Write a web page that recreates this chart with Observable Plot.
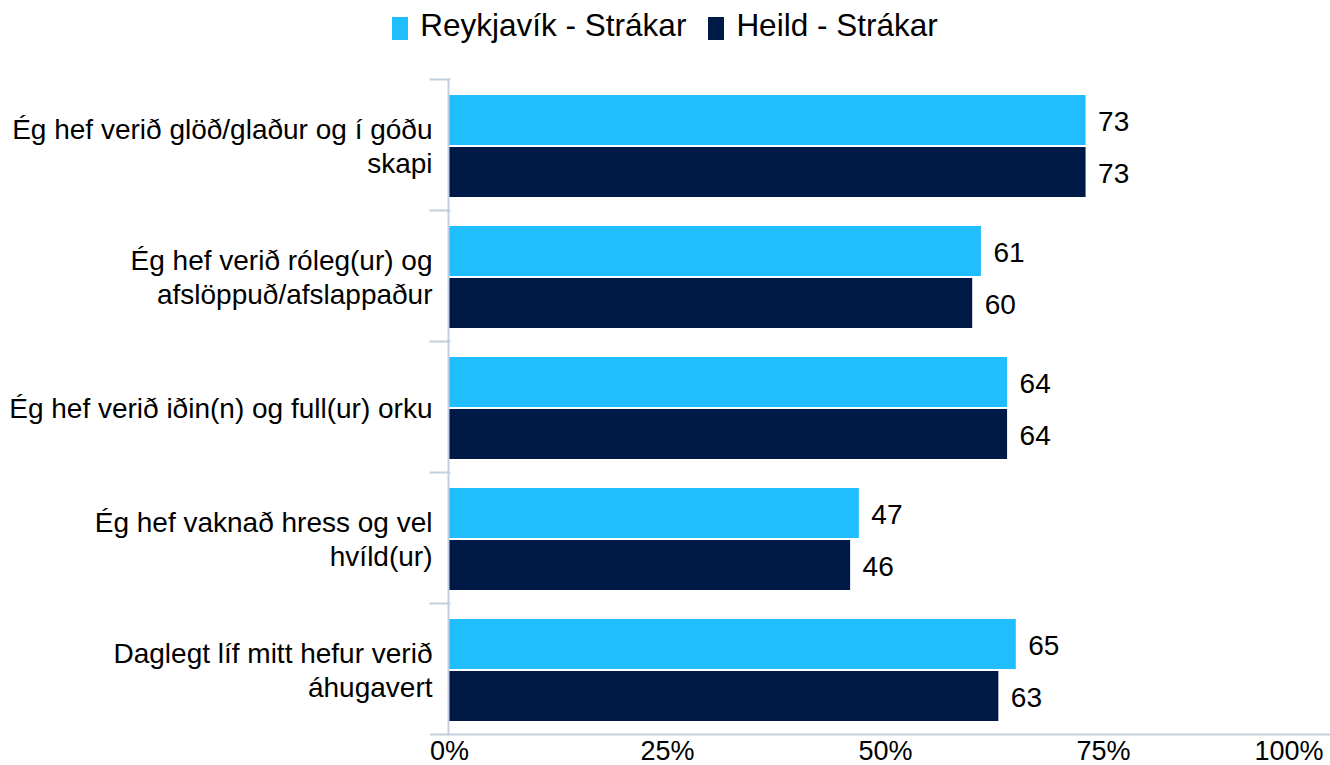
<!DOCTYPE html>
<html>
<head>
<meta charset="utf-8">
<script src="https://cdn.jsdelivr.net/npm/d3@7"></script>
<script src="https://cdn.jsdelivr.net/npm/@observablehq/plot@0.6"></script>
<style>
  html, body { margin: 0; padding: 0; background: #fff; }
  body { font-family: "Liberation Sans", Arial, sans-serif; width: 1330px; }
  #legend { height: 60px; box-sizing: border-box; padding-top: 7px; display: flex; justify-content: center; align-items: flex-start; font-size: 31.5px; line-height: 36px; color: #000; }
  .item { display: flex; align-items: flex-start; margin: 0 11px; }
  .sw { width: 16px; height: 23px; margin-top: 10px; margin-right: 12px; }
  #chart svg { display: block; }
</style>
</head>
<body>
<div id="legend"></div>
<div id="chart"></div>
<script>
// ---- data ----
const categories = [
  "Ég hef verið glöð/glaður og í góðu skapi",
  "Ég hef verið róleg(ur) og afslöppuð/afslappaður",
  "Ég hef verið iðin(n) og full(ur) orku",
  "Ég hef vaknað hress og vel hvíld(ur)",
  "Daglegt líf mitt hefur verið áhugavert"
];
const categoryLabels = [
  "Ég hef verið glöð/glaður og í góðu\nskapi",
  "Ég hef verið róleg(ur) og\nafslöppuð/afslappaður",
  "Ég hef verið iðin(n) og full(ur) orku",
  "Ég hef vaknað hress og vel\nhvíld(ur)",
  "Daglegt líf mitt hefur verið\náhugavert"
];
const seriesNames = ["Reykjavík - Strákar", "Heild - Strákar"];
const reykjavikValues = [73, 61, 64, 47, 65];
const heildValues = [73, 60, 64, 46, 63];
const xTicks = [0, 25, 50, 75, 100];

// ---- styles / layout ----
const seriesColors = ["#20BEFF", "#001A48"];
const axisColor = "#C3CFDF";
const W = 1330, H = 705;
const mL = 449, mR = 9, mT = 18, mB = 30;
const yPadInner = 0.03, yPadOuter = 0.27, yAlign = 0.55;

const rows = categories.flatMap((c, i) => [
  {cat: c, series: seriesNames[0], value: reykjavikValues[i]},
  {cat: c, series: seriesNames[1], value: heildValues[i]}
]);

// offset (px) from the centre of the last series band to the bottom of its facet
const facetH = (H - mT - mB) / categories.length;
const step = facetH / (seriesNames.length - yPadInner + 2 * yPadOuter);
const bw = step * (1 - yPadInner);
const startOuter = (facetH - step * (seriesNames.length - yPadInner)) * yAlign;
const lastCenter = startOuter + step * (seriesNames.length - 1) + bw / 2;
const bottomDy = facetH - lastCenter;

// legend
const legend = document.getElementById("legend");
seriesNames.forEach((s, i) => {
  const it = document.createElement("div");
  it.className = "item";
  const sw = document.createElement("span");
  sw.className = "sw";
  sw.style.background = seriesColors[i];
  const tx = document.createElement("span");
  tx.textContent = s;
  it.append(sw, tx);
  legend.append(it);
});

const chart = Plot.plot({
  width: W,
  height: H,
  marginLeft: mL,
  marginRight: mR,
  marginTop: mT,
  marginBottom: mB,
  style: {fontFamily: "'Liberation Sans', Arial, sans-serif", fontSize: "27px", color: "#000", background: "#fff", overflow: "visible"},
  x: {domain: [0, 100], axis: null},
  fy: {domain: categories, padding: 0, axis: null},
  y: {domain: seriesNames, paddingInner: yPadInner, paddingOuter: yPadOuter, align: yAlign, axis: null},
  color: {domain: seriesNames, range: seriesColors},
  marks: [
    Plot.barX(rows, {fy: "cat", y: "series", x: "value", fill: "series"}),
    Plot.text(rows, {fy: "cat", y: "series", x: "value", text: d => String(d.value), textAnchor: "start", dx: 12, dy: 2, fontSize: 28, fill: "#000"}),
    Plot.text(categories, {fy: d => d, text: (d, i) => categoryLabels[i], frameAnchor: "left", textAnchor: "end", dx: -17, lineHeight: 1.2, fontSize: 28, fill: "#000"}),
    Plot.frame({anchor: "left", stroke: axisColor, strokeWidth: 2, insetLeft: -1}),
    Plot.frame({anchor: "top", stroke: axisColor, strokeWidth: 2, insetLeft: -19, insetRight: W - mL - mR}),
    Plot.ruleY([categories[categories.length - 1]], {fy: d => d, y: () => seriesNames[seriesNames.length - 1], dy: bottomDy, x1: () => -19 / ((W - mL - mR) / 100), x2: () => 100 + mR / ((W - mL - mR) / 100), stroke: axisColor, strokeWidth: 2}),
    Plot.axisX({ticks: xTicks.slice(0, -1), tickFormat: d => d + "%", tickSize: 0, tickPadding: 6, fontSize: 27, fill: "#000", label: null}),
    Plot.axisX({ticks: xTicks.slice(-1), tickFormat: d => d + "%", tickSize: 0, tickPadding: 6, fontSize: 27, textAnchor: "end", dx: 2, fill: "#000", label: null})
  ]
});
document.getElementById("chart").append(chart);
</script>
</body>
</html>
